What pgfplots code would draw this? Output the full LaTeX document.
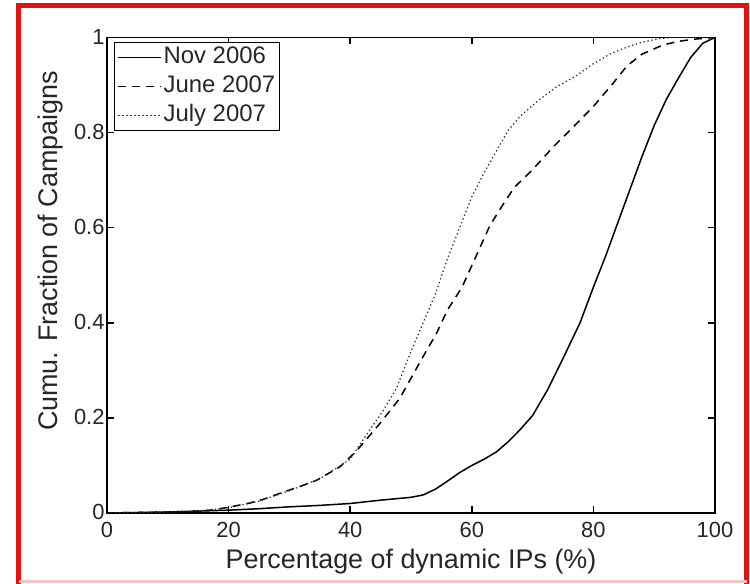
\documentclass[border=0pt]{standalone}
\usepackage{fontspec}
\setmainfont{Liberation Sans}
\usepackage{pgfplots}
\pgfplotsset{compat=1.18}
\definecolor{framered}{rgb}{0.88,0.07,0.07}

\begin{document}
\begin{tikzpicture}
\path[use as bounding box] (0,0) rectangle (750bp,584bp);
\fill[white] (0,0) rectangle (750bp,584bp);
% outer frame
\draw[line width=5bp, framered] (18.5bp,0bp) -- (18.5bp,578.5bp) -- (746.5bp,578.5bp) -- (746.5bp,0bp);
\draw[line width=3bp, framered!25] (18.5bp,2.5bp) -- (746.5bp,2.5bp);

\begin{axis}[
  at={(107bp,71bp)}, anchor=south west,
  scale only axis, width=608bp, height=475.5bp,
  xmin=0, xmax=100, ymin=0, ymax=1,
  xtick={0,20,40,60,80,100}, ytick={0,0.2,0.4,0.6,0.8,1},
  tick align=inside, major tick length=7bp,
  axis line style={line width=1.5bp},
  every tick/.style={black, line width=1.5bp},
  /pgf/number format/assume math mode=true,
  tick label style={font=\fontsize{22}{26}\selectfont, text=black!85},
  xticklabel style={yshift=-6bp},
  yticklabel style={xshift=1bp, yshift=1bp},
  xlabel={Percentage of dynamic IPs (\%)},
  ylabel={Cumu. Fraction of Campaigns},
  label style={font=\fontsize{27}{30}\selectfont, text=black!85},
  xlabel style={at={(axis description cs:0.5,-0.1157)}, anchor=base},
  ylabel style={at={(axis description cs:-0.0822,0.551)}, anchor=base, rotate=0},
  legend style={at={(axis description cs:0.0115,0.9905)}, anchor=north west,
    draw=black, line width=1.2bp, inner xsep=3bp, inner ysep=2.5bp,
    font=\fontsize{24}{27}\selectfont, row sep=4bp,
    nodes={inner sep=1.5bp, text height=17bp, text depth=5bp, text=black!85}},
  legend cell align=left,
  legend image code/.code={\draw[#1] (0bp,0bp) -- (43bp,0bp);},
]
% Nov 2006
\addplot[black, line width=1.5bp] coordinates {
 (0,0) (5,0.001) (10,0.002) (15,0.004) (20,0.006) (25,0.009) (30,0.013)
 (35,0.016) (40,0.02) (45,0.027) (50,0.033) (52,0.038) (54,0.05) (56,0.067)
 (58,0.085) (60,0.10) (62,0.113) (64,0.128) (66,0.15) (68,0.176) (70,0.205)
 (72.5,0.26) (75,0.325) (77.8,0.40) (80,0.475) (82,0.54) (84,0.61) (86,0.68)
 (88,0.75) (90,0.815) (92,0.87) (94,0.915) (96,0.958) (98,0.988) (100,1)
};
\addlegendentry{Nov 2006}
% June 2007
\addplot[black, line width=1.5bp, dash pattern=on 8bp off 6bp] coordinates {
 (0,0) (5,0.001) (10,0.002) (15,0.004) (17,0.006) (20,0.012) (23.5,0.021)
 (26,0.03) (29,0.044) (32,0.057) (34.5,0.069) (38.3,0.097) (41,0.13)
 (43,0.16) (45,0.19) (48.2,0.242) (51.5,0.318) (54.2,0.378) (56,0.427)
 (58.4,0.475) (60.8,0.543) (63,0.605) (65.2,0.65) (67,0.685) (70,0.722)
 (73.4,0.77) (76.7,0.812) (80,0.855) (83,0.9) (85.5,0.94) (88,0.965)
 (91.4,0.984) (94,0.992) (97,0.997) (100,1)
};
\addlegendentry{June 2007}
% July 2007
\addplot[black!80, line width=1.3bp, dash pattern=on 1.3bp off 2.7bp] coordinates {
 (0,0) (5,0.001) (10,0.002) (15,0.004) (20,0.011) (25,0.025) (30,0.047)
 (35,0.072) (40,0.113) (42.7,0.165) (45.4,0.215) (47.6,0.262) (50,0.34)
 (52,0.40) (54,0.46) (56,0.535) (58,0.60) (60,0.665) (62,0.715) (64,0.76)
 (66,0.805) (68,0.835) (71,0.868) (74,0.897) (77,0.918) (80,0.945)
 (83,0.967) (86,0.982) (88,0.99) (91,0.998) (93,1) (100,1)
};
\addlegendentry{July 2007}
\end{axis}
\end{tikzpicture}
\end{document}
